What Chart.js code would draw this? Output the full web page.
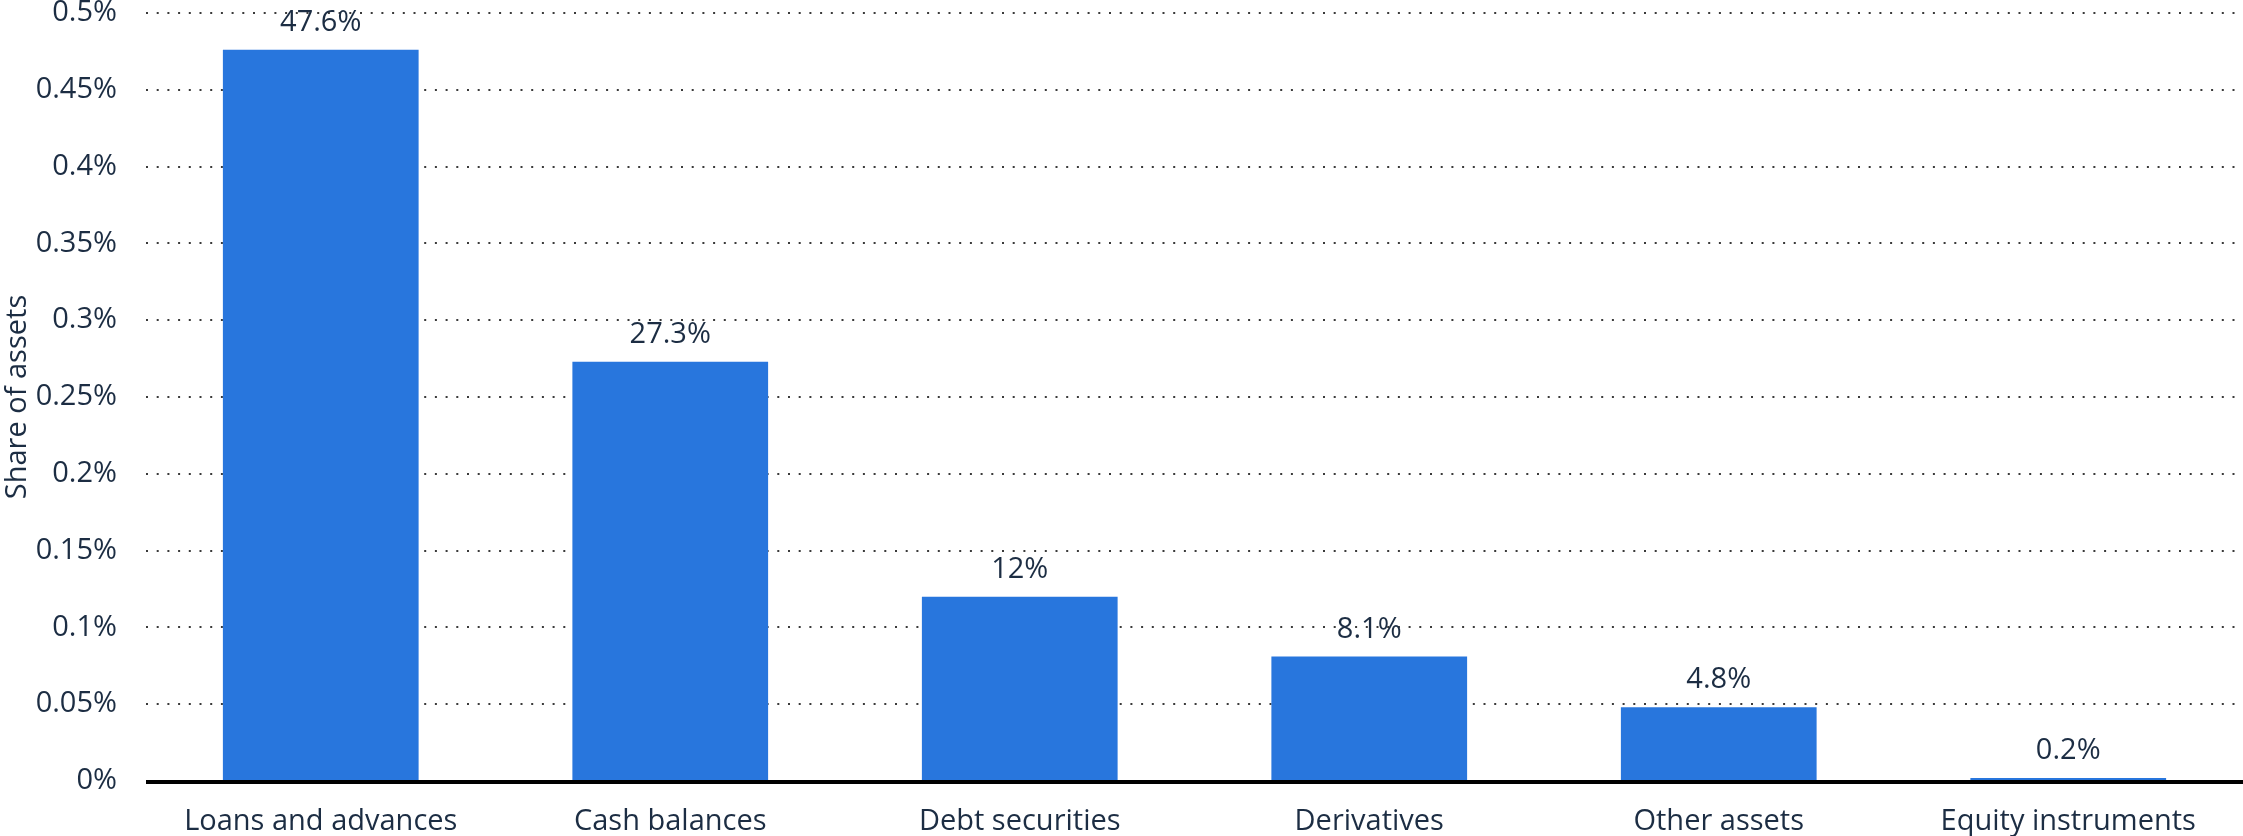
<!DOCTYPE html>
<html>
<head>
<meta charset="utf-8">
<script src="https://cdn.jsdelivr.net/npm/chart.js@4.4.1/dist/chart.umd.min.js"></script>
<style>
	html, body { margin: 0; padding: 0; background: #fff; }
	#wrap { width: 2243px; height: 836px; }
</style>
</head>
<body>
<div id="wrap"><canvas id="data"></canvas></div>
<script>
const categories = [
	"Loans and advances",
	"Cash balances",
	"Debt securities",
	"Derivatives",
	"Other assets",
	"Equity instruments"
];
// plotted values (axis reads them as "%", labels show them x100)
const shares = [0.476, 0.273, 0.12, 0.081, 0.048, 0.002];
const valueLabels = ["47.6%", "27.3%", "12%", "8.1%", "4.8%", "0.2%"];
const yTicks = [0, 0.05, 0.1, 0.15, 0.2, 0.25, 0.3, 0.35, 0.4, 0.45, 0.5];

const textColor = "#1c2d43";
const fontFamily = "'Open Sans', 'Noto Sans', sans-serif";

const barLabels = {
	id: "barLabels",
	afterDatasetsDraw(chart) {
		const ctx = chart.ctx;
		const meta = chart.getDatasetMeta(0);
		ctx.save();
		ctx.font = "29px " + fontFamily;
		ctx.fillStyle = textColor;
		ctx.textAlign = "center";
		ctx.textBaseline = "alphabetic";
		meta.data.forEach((bar, i) => {
			ctx.fillText(valueLabels[i], bar.x, bar.y - 19);
		});
		ctx.restore();
	}
};

const baseline = {
	id: "baseline",
	afterDatasetsDraw(chart) {
		const ctx = chart.ctx;
		const y = chart.scales.y.getPixelForValue(0);
		ctx.save();
		ctx.strokeStyle = "#000";
		ctx.lineWidth = 4;
		ctx.beginPath();
		ctx.moveTo(chart.chartArea.left, y + 1);
		ctx.lineTo(chart.chartArea.right, y + 1);
		ctx.stroke();
		ctx.restore();
	}
};

new Chart(document.getElementById("data"), {
	type: "bar",
	data: {
		labels: categories,
		datasets: [
			{
				data: shares,
				backgroundColor: "#2876dd",
				borderWidth: 0,
				categoryPercentage: 1,
				barPercentage: 0.56
			}
		]
	},
	options: {
		responsive: true,
		maintainAspectRatio: false,
		animation: false,
		layout: { padding: 0 },
		scales: {
			x: {
				grid: { display: false, drawTicks: false },
				border: { display: false },
				ticks: {
					color: textColor,
					padding: 23,
					maxRotation: 0,
					font: { size: 29, family: fontFamily }
				},
				afterFit(scale) {
					scale.height = 55;
					scale.paddingLeft = 0;
					scale.paddingRight = 0;
				}
			},
			y: {
				min: 0,
				max: 0.5,
				afterBuildTicks(scale) {
					scale.ticks = yTicks.map((v) => ({ value: v }));
				},
				grid: {
					color: "#3a3a3a",
					lineWidth: 2,
					drawTicks: false
				},
				border: { display: false, dash: [2, 8.7] },
				ticks: {
					color: textColor,
					padding: 29,
					font: { size: 29, family: fontFamily },
					callback: (v) => v + "%"
				},
				title: {
					display: true,
					text: "Share of assets",
					color: textColor,
					padding: { top: 0, bottom: 0 },
					font: { size: 29, family: fontFamily }
				},
				afterFit(scale) {
					scale.width = 146;
					scale.paddingTop = 13;
					scale.paddingBottom = 0;
				}
			}
		},
		plugins: {
			legend: { display: false },
			tooltip: { enabled: false }
		}
	},
	plugins: [barLabels, baseline]
});
</script>
</body>
</html>
